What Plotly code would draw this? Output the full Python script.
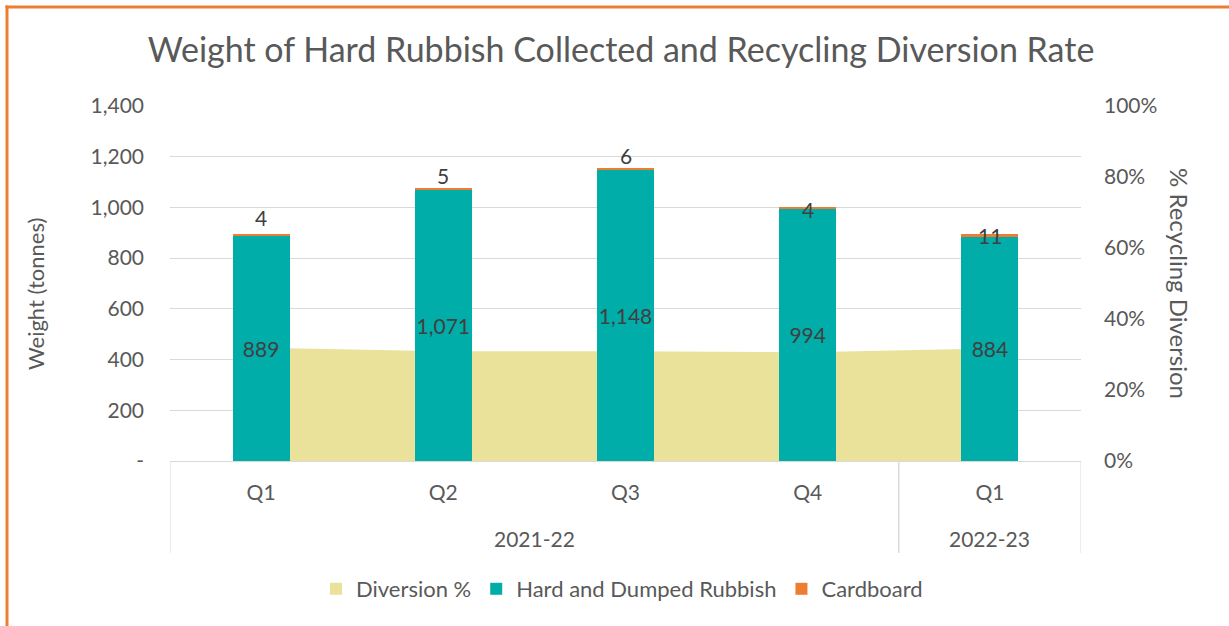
import plotly.graph_objects as go

years = ["2021-22", "2021-22", "2021-22", "2021-22", "2022-23"]
quarters = ["Q1", "Q2", "Q3", "Q4", "Q1"]
hard_rubbish = [889, 1071, 1148, 994, 884]
cardboard = [4, 5, 6, 4, 11]
diversion = [0.319, 0.309, 0.309, 0.306, 0.317]

label_shift = [17, 13, 13, -2, -1]

TEXT = "#595959"
LABEL = "#404040"
FONT = "Lato"
W, H = 1229, 626
L, R, T, B = 170, 148, 106, 165
pw, ph = W - L - R, H - T - B

cats = [f"{y} {q}" for y, q in zip(years, quarters)]


def px_x(p):
    return (p - L) / pw


def px_y(p):
    return (T + ph - p) / ph


fig = go.Figure()

# legend-only swatch so that the area shows a square key like the bars
fig.add_trace(go.Bar(
    x=cats, y=[0] * len(cats), name="Diversion %", yaxis="y2",
    marker=dict(color="#EAE29B", line=dict(width=0)), hoverinfo="skip",
    legendgroup="div", textposition="none"))

fig.add_trace(go.Scatter(
    x=cats, y=diversion, name="Diversion %",
    mode="none", fill="tozeroy", fillcolor="#EAE29B",
    yaxis="y", hoverinfo="skip", showlegend=False, legendgroup="div"))

fig.add_trace(go.Bar(
    x=cats, y=hard_rubbish, name="Hard and Dumped Rubbish",
    marker=dict(color="#00ADA8", line=dict(width=0)), yaxis="y2",
    text=[f"{v:,}" for v in hard_rubbish], textposition="inside",
    insidetextanchor="middle", constraintext="none", textangle=0,
    textfont=dict(color=LABEL, size=21, family=FONT)))

fig.add_trace(go.Bar(
    x=cats, y=cardboard, name="Cardboard",
    marker=dict(color="#ED7D31", line=dict(width=0)), yaxis="y2",
    textposition="none"))

for c, h, v, s in zip(cats, hard_rubbish, cardboard, label_shift):
    fig.add_annotation(x=c, y=h + v, xref="x", yref="y2", text=str(v),
                       showarrow=False, yshift=s,
                       font=dict(color=LABEL, size=21, family=FONT))

# year group labels and dividers of the two-level category axis
groups = []
for i, y in enumerate(years):
    if groups and groups[-1][0] == y:
        groups[-1][2] = i
    else:
        groups.append([y, i, i])

for name, i0, i1 in groups:
    fig.add_annotation(x=(i0 + i1) / 2, y=px_y(538), xref="x", yref="paper",
                       xanchor="center", yanchor="middle",
                       text=name, showarrow=False,
                       font=dict(color=TEXT, size=21, family=FONT))
    for edge in (i0 - 0.5, i1 + 0.5):
        fig.add_shape(type="line", xref="x", yref="paper",
                      x0=edge, x1=edge, y0=0, y1=px_y(553),
                      line=dict(color="#D9D9D9", width=1))

fig.add_annotation(x=px_x(1180), y=px_y(283), xref="paper", yref="paper",
                   xanchor="center", yanchor="middle",
                   text="% Recycling Diversion", textangle=90, showarrow=False,
                   font=dict(color=TEXT, size=24, family=FONT))

fig.add_annotation(x=px_x(35), y=px_y(294), xref="paper", yref="paper",
                   xanchor="center", yanchor="middle",
                   text="Weight (tonnes)", textangle=-90, showarrow=False,
                   font=dict(color=TEXT, size=22, family=FONT))

# orange outline of the chart area
fig.add_shape(type="line", xref="paper", yref="paper",
              x0=px_x(7), x1=px_x(7), y0=px_y(5.5), y1=px_y(640),
              line=dict(color="#ED7D31", width=3))
fig.add_shape(type="line", xref="paper", yref="paper",
              x0=px_x(5.5), x1=px_x(1240), y0=px_y(7), y1=px_y(7),
              line=dict(color="#ED7D31", width=3))

tick_vals = list(range(0, 1401, 200))
tick_text = ["-"] + [f"{v:,}" for v in tick_vals[1:]]

fig.update_layout(
    width=W, height=H,
    margin=dict(l=L, r=R, t=T, b=B),
    paper_bgcolor="white", plot_bgcolor="white",
    barmode="stack", bargap=0.687,
    font=dict(family=FONT, color=TEXT, size=20),
    title=dict(text="Weight of Hard Rubbish Collected and Recycling Diversion Rate",
               x=621 / W, xanchor="center",
               y=1 - 50 / H, yanchor="middle",
               font=dict(size=34, color=TEXT, family=FONT)),
    xaxis=dict(type="category", range=[-0.5, len(cats) - 0.5],
               tickvals=cats, ticktext=quarters,
               showline=True, linecolor="#D9D9D9", linewidth=1,
               showgrid=False, ticks="", ticklabelstandoff=13,
               tickfont=dict(size=21, color=TEXT)),
    yaxis=dict(range=[0, 1], side="right", tickformat=".0%", dtick=0.2,
               showgrid=False, zeroline=False, ticks="", ticklabelstandoff=22,
               tickfont=dict(size=21, color=TEXT)),
    yaxis2=dict(range=[0, 1400], overlaying="y", side="left",
                tickvals=tick_vals, ticktext=tick_text,
                showgrid=True, gridcolor="#D9D9D9", gridwidth=1, zeroline=False,
                ticks="", ticklabelstandoff=25,
                tickfont=dict(size=21, color=TEXT)),
    legend=dict(orientation="h", x=px_x(622), xanchor="center", y=px_y(589),
                yanchor="middle", font=dict(size=22, color=TEXT),
                traceorder="normal", itemwidth=30),
    showlegend=True,
)

fig.write_html("out.html", config={"displayModeBar": False},
               post_script="document.body.style.margin='0';")
